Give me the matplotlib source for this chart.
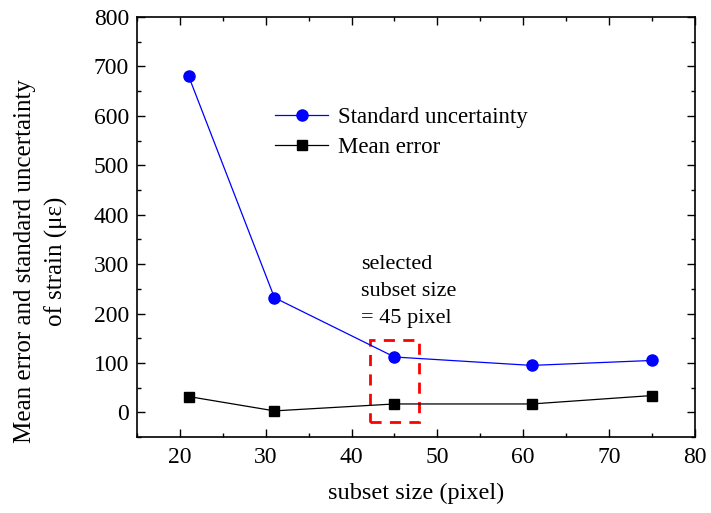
import matplotlib.pyplot as plt
from matplotlib.patches import Rectangle
from matplotlib.ticker import MultipleLocator

plt.rcParams['font.family'] = ['Liberation Serif', 'DejaVu Serif']
plt.rcParams['mathtext.fontset'] = 'stix'

subset_size = [21, 31, 45, 61, 75]
std_uncertainty = [680, 232, 112, 95, 105]
mean_error = [32, 3, 17, 17, 34]

fig = plt.figure(figsize=(7.11, 5.13), dpi=100)
ax = fig.add_axes([0.193, 0.148, 0.784, 0.819])

ax.plot(subset_size, std_uncertainty, color='blue', lw=0.9, marker='o',
        markersize=8, label='Standard uncertainty')
ax.plot(subset_size, mean_error, color='black', lw=0.9, marker='s',
        markersize=7, label='Mean error')

# highlight the chosen subset size
ax.add_patch(Rectangle((42.2, -20), 5.6, 167, fill=False, edgecolor='red',
                       lw=2, linestyle=(0, (4, 3))))
ax.text(41.1, 319, 'selected\nsubset size\n= 45 pixel', fontsize=16,
        va='top', ha='left', linespacing=1.6)

ax.set_xlim(15, 80)
ax.set_ylim(-50, 800)
ax.xaxis.set_major_locator(MultipleLocator(10))
ax.xaxis.set_minor_locator(MultipleLocator(5))
ax.yaxis.set_major_locator(MultipleLocator(100))
ax.yaxis.set_minor_locator(MultipleLocator(50))
ax.tick_params(which='both', direction='in', top=True, right=True,
               labelsize=17, width=1)
ax.tick_params(which='major', length=6)
ax.tick_params(which='minor', length=3)
ax.tick_params(axis='x', pad=7)
ax.tick_params(axis='y', pad=6)
for s in ax.spines.values():
    s.set_linewidth(1.2)

ax.set_xlabel('subset size (pixel)', fontsize=17.5, labelpad=11)
ax.set_ylabel('Mean error and standard uncertainty\nof strain (με)', fontsize=18,
              linespacing=1.5)
ax.yaxis.set_label_coords(-0.124, 0.419)

ax.legend(loc='upper left', bbox_to_anchor=(0.231, 0.808), frameon=False,
          fontsize=16.5, handlelength=2.3, handletextpad=0.45, labelspacing=0.4,
          borderaxespad=0)

fig.savefig('out.png', dpi=100)
